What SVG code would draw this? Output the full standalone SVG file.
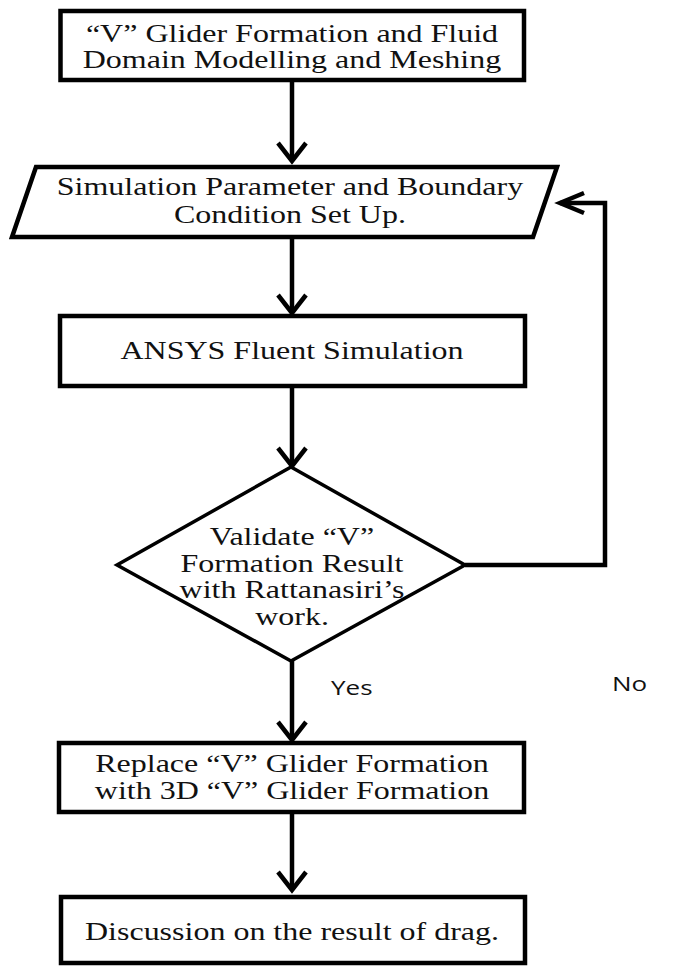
<svg xmlns="http://www.w3.org/2000/svg" width="686" height="967" viewBox="0 0 686 967">
<style>
.shape{fill:#fff;stroke:#000;stroke-width:4.5;stroke-linejoin:miter}
.dia{fill:#fff;stroke:#000;stroke-width:3.5}
.t{font-family:"Liberation Serif","Times New Roman",serif;font-size:25px;fill:#111;text-anchor:middle}
.lbl{font-family:"Open Sans","Noto Sans",sans-serif;font-size:20px;fill:#111}
.line{fill:none;stroke:#000;stroke-width:4.5}
.head{fill:none;stroke:#000;stroke-width:4.5;stroke-linejoin:miter;stroke-linecap:butt}
</style>
<rect width="686" height="967" fill="#fff"/>
<g id="connectors">
<path class="line" d="M292,80 V160"/>
<path class="head" d="M278,143 L292,161 L306,143"/>
<path class="line" d="M292,237 V312"/>
<path class="head" d="M278,295 L292,313 L306,295"/>
<path class="line" d="M292,386 V465"/>
<path class="head" d="M278,448 L292,466 L306,448"/>
<path class="line" d="M292,661 V738"/>
<path class="head" d="M278,722 L292,740 L306,722"/>
<path class="line" d="M292,812 V888"/>
<path class="head" d="M278,872 L292,890 L306,872"/>
<path class="line" d="M465,565 H605 V203 H560"/>
<path class="head" d="M584,193 L560,203 L584,213"/>
</g>
<g id="n1">
<rect class="shape" x="60.5" y="11" width="463.5" height="69"/>
<text class="t" transform="translate(292,42) scale(1.28,1)">“V” Glider Formation and Fluid</text>
<text class="t" transform="translate(292,68) scale(1.28,1)">Domain Modelling and Meshing</text>
</g>
<g id="n2">
<polygon class="shape" points="36,167 557,167 533,237 12,237"/>
<text class="t" transform="translate(290,195) scale(1.28,1)">Simulation Parameter and Boundary</text>
<text class="t" transform="translate(290,223) scale(1.28,1)">Condition Set Up.</text>
</g>
<g id="n3">
<rect class="shape" x="60" y="316" width="465" height="70"/>
<text class="t" transform="translate(292,359) scale(1.28,1)">ANSYS Fluent Simulation</text>
</g>
<g id="n4">
<polygon class="dia" points="291,467 465,565 291,661 117,565"/>
<text class="t" transform="translate(292,545) scale(1.28,1)">Validate “V”</text>
<text class="t" transform="translate(292,572) scale(1.28,1)">Formation Result</text>
<text class="t" transform="translate(292,598) scale(1.28,1)">with Rattanasiri’s</text>
<text class="t" transform="translate(292,625) scale(1.28,1)">work.</text>
</g>
<g id="n5">
<rect class="shape" x="59" y="743" width="465" height="69"/>
<text class="t" transform="translate(292,772) scale(1.28,1)">Replace “V” Glider Formation</text>
<text class="t" transform="translate(292,799) scale(1.28,1)">with 3D “V” Glider Formation</text>
</g>
<g id="n6">
<rect class="shape" x="61" y="897" width="464" height="66"/>
<text class="t" transform="translate(292,940) scale(1.28,1)">Discussion on the result of drag.</text>
</g>
<g id="labels">
<text class="lbl" transform="translate(612,691) scale(1.3,1)">No</text>
<text class="lbl" transform="translate(331,695) scale(1.3,1)">Yes</text>
</g>
</svg>
